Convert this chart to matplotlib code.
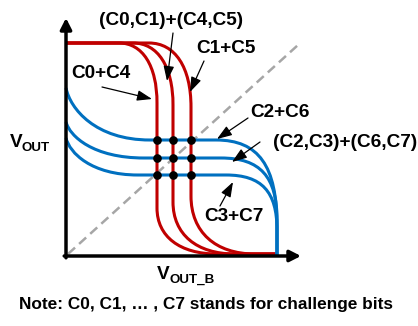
import numpy as np
import matplotlib
matplotlib.use("Agg")
import matplotlib.pyplot as plt
from matplotlib.path import Path
from matplotlib.patches import PathPatch

# ---------------- data (schematic units, origin at the axes corner) ----------------
red_switch = [91, 107, 125]        # V_OUT_B where each red VTC switches
red_high = 213
red_low = 2
red_top_dx = [38, 40, 42]
red_top_dy = [60, 62, 64]
red_bot_dy = [46, 52, 58]
red_bot_dx = [60, 62, 64]

blue_level = [116, 98, 81]         # flat V_OUT levels of the blue VTCs
blue_start = [168, 134, 118]       # V_OUT at V_OUT_B = 0
blue_left_dx = [84, 78, 72]
blue_knee_x = [150, 155, 160]
blue_knee_y = [30, 36, 26]
blue_right_x = 211

x_end = 211
diag = [2, 232], [2, 211]

labels = ["(C0,C1)+(C4,C5)", "C1+C5", "C0+C4", "C2+C6", "(C2,C3)+(C6,C7)", "C3+C7"]

RED = "#C00000"
BLUE = "#0070C0"
FONT = "Liberation Sans"

fig = plt.figure(figsize=(4.18, 3.26), dpi=100)
ax = fig.add_axes([0, 0, 1, 1])
ax.set_xlim(-66, 352)
ax.set_ylim(-70, 256)
ax.axis("off")

# dashed reference line
ax.plot(diag[0], diag[1], color="#A6A6A6", lw=1.8, ls=(0, (3.8, 2.2)), zorder=1)

a = 0.62
# red curves
for xs, tdx, tdy, bdy, bdx in zip(red_switch, red_top_dx, red_top_dy, red_bot_dy, red_bot_dx):
    H, L = red_high, red_low
    x1 = xs - tdx
    y2 = H - tdy
    verts = [(0, H), (x1, H),
             (x1 + a * tdx, H), (xs, y2 + a * tdy), (xs, y2),
             (xs, L + bdy),
             (xs, L + (1 - a) * bdy), (xs + (1 - a) * bdx, L), (xs + bdx, L),
             (x_end, L)]
    codes = [Path.MOVETO, Path.LINETO,
             Path.CURVE4, Path.CURVE4, Path.CURVE4,
             Path.LINETO,
             Path.CURVE4, Path.CURVE4, Path.CURVE4,
             Path.LINETO]
    ax.add_patch(PathPatch(Path(verts, codes), fill=False, edgecolor=RED, lw=2.2,
                           zorder=3, joinstyle="round", capstyle="butt"))

# blue curves
b = 0.7
for L, ys, ldx, kx, ky in zip(blue_level, blue_start, blue_left_dx, blue_knee_x, blue_knee_y):
    R = blue_right_x
    verts = [(0, ys),
             (0.05 * ldx, L + 0.6 * (ys - L)), (0.35 * ldx, L), (ldx, L),
             (kx, L),
             (kx + b * (R - kx), L), (R, ky + b * (L - ky)), (R, ky),
             (R, 0)]
    codes = [Path.MOVETO,
             Path.CURVE4, Path.CURVE4, Path.CURVE4,
             Path.LINETO,
             Path.CURVE4, Path.CURVE4, Path.CURVE4,
             Path.LINETO]
    ax.add_patch(PathPatch(Path(verts, codes), fill=False, edgecolor=BLUE, lw=2.2,
                           zorder=3, joinstyle="round", capstyle="butt"))

# intersection dots
for xs in red_switch:
    for L in blue_level:
        ax.plot(xs, L, "o", color="black", ms=5.2, zorder=5)

# axes with arrows
axis_style = dict(arrowstyle="-|>,head_length=0.55,head_width=0.28", color="black",
                  lw=2.5, shrinkA=0, shrinkB=0, mutation_scale=12)
ax.annotate("", xy=(0, 238), xytext=(0, -1.8), arrowprops=axis_style, zorder=6)
ax.annotate("", xy=(235, 0), xytext=(-1.8, 0), arrowprops=axis_style, zorder=6)

# labels with arrows
txt = dict(fontsize=13.7, fontweight="bold", family=FONT, ha="center", va="baseline")
label_pos = [(105, 231), (160, 203), (35, 178), (214, 139), (279, 109), (168, 35)]
arrow_tail = [(107, 223), (138, 195), (36, 169), (182, 138), (194, 114), (154, 50)]
arrow_tip = [(101, 175), (124, 164), (86, 157), (151, 117), (166, 94), (167, 74)]
for s, p in zip(labels, label_pos):
    ax.text(p[0], p[1], s, **txt)
for t0, t1 in zip(arrow_tail, arrow_tip):
    ax.annotate("", xy=t1, xytext=t0,
                arrowprops=dict(arrowstyle="-|>,head_length=0.9,head_width=0.32",
                                color="black", lw=0.9, shrinkA=0, shrinkB=0,
                                mutation_scale=10), zorder=7)

# axis titles
ax.text(-56, 109, "V", fontsize=13.7, fontweight="bold", family=FONT, ha="left", va="baseline")
ax.text(-44, 105, "OUT", fontsize=9.6, fontweight="bold", family=FONT, ha="left", va="baseline")
ax.text(91, -23, "V", fontsize=13.7, fontweight="bold", family=FONT, ha="left", va="baseline")
ax.text(104, -27, "OUT_B", fontsize=9.6, fontweight="bold", family=FONT, ha="left", va="baseline")

# note
ax.text(140, -53, "Note: C0, C1, \u2026 , C7 stands for challenge bits",
        fontsize=12.4, fontweight="bold", family=FONT, ha="center", va="baseline")

fig.savefig("out.png", dpi=100)
